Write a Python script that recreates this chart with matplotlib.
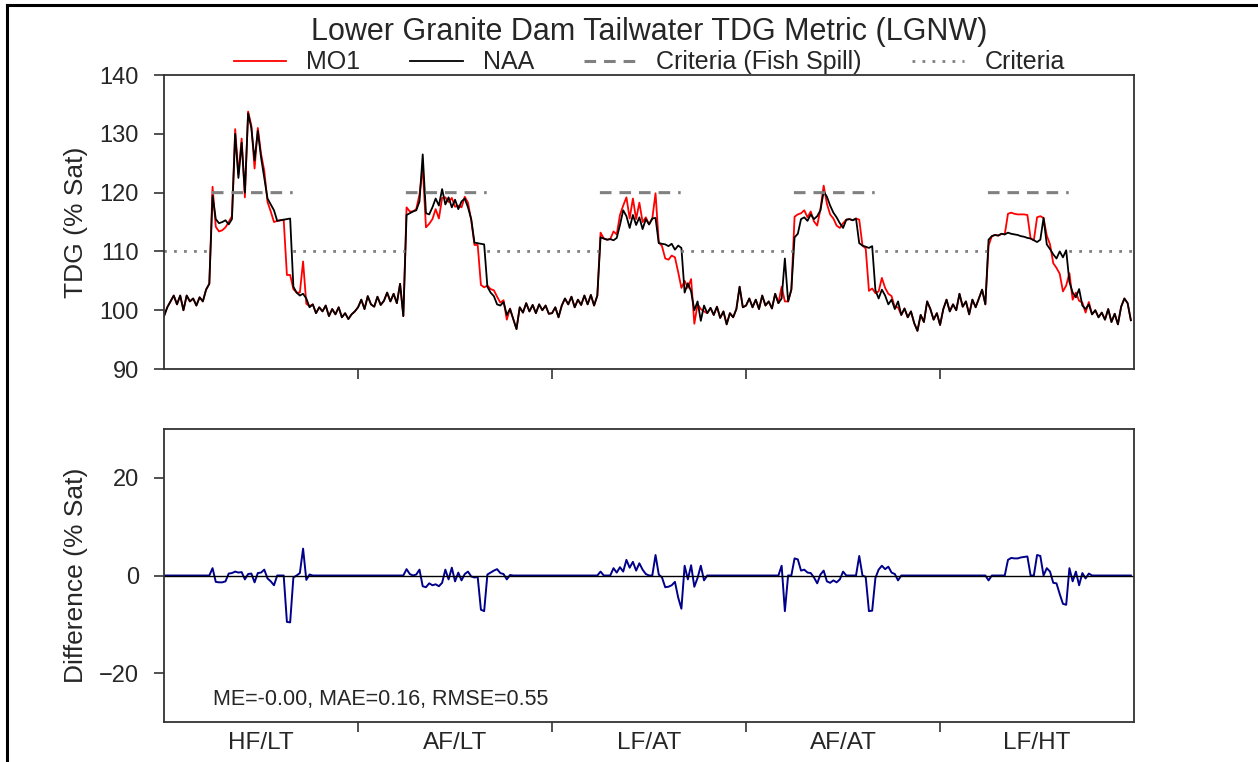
import numpy as np
import matplotlib
matplotlib.use("Agg")
from matplotlib import pyplot as plt
from matplotlib.lines import Line2D

plt.rcParams['font.family'] = ['Liberation Sans', 'DejaVu Sans']

# scenario labels, one year each
scenarios = ["HF/LT", "AF/LT", "LF/AT", "AF/AT", "LF/HT"]

# NAA tailwater TDG (% Sat), 60 samples per year
naa_hf_lt = [99.0, 100.5, 101.5, 102.5, 101.0, 102.5, 100.0, 102.5, 101.5, 102.0,
             100.8, 102.2, 101.5, 103.5, 104.5, 119.5, 115.5, 114.8, 115.0, 115.3,
             114.6, 115.5, 130.0, 122.5, 128.5, 120.0, 133.5, 131.0, 125.5, 130.5,
             126.0, 122.5, 119.0, 118.0, 117.0, 115.2, 115.3, 115.4, 115.5, 115.6,
             104.0, 103.0, 102.5, 102.8, 102.0, 100.5, 101.0, 99.5, 100.5, 99.8,
             100.8, 99.0, 100.2, 99.3, 100.5, 98.8, 99.5, 98.5, 99.3, 99.8]
naa_af_lt = [100.5, 101.8, 100.2, 102.4, 101.0, 100.6, 102.3, 100.9, 101.6, 103.0,
             101.5, 102.8, 101.2, 104.5, 99.0, 116.2, 116.5, 116.8, 117.0, 118.5,
             126.5, 116.5, 116.3, 117.5, 119.0, 117.8, 120.6, 118.0, 119.2, 117.5,
             118.8, 117.2, 118.5, 119.0, 117.5, 115.5, 111.5, 111.4, 111.3, 111.2,
             104.0, 103.0, 102.4, 101.0, 100.8, 101.4, 99.2, 100.2, 98.5, 96.8,
             100.5, 99.6, 101.2, 99.8, 100.9, 99.5, 101.0, 100.0, 100.8, 99.4]
naa_lf_at = [99.5, 100.5, 98.8, 100.8, 102.0, 101.0, 102.3, 100.5, 101.8, 100.9,
             102.5, 101.0, 102.6, 100.8, 102.5, 112.4, 112.2, 112.0, 112.1, 111.9,
             112.3, 114.5, 117.0, 116.0, 114.0, 116.2, 114.5, 115.8, 113.8, 115.5,
             114.6, 115.6, 115.7, 111.4, 111.3, 111.2, 110.9, 111.3, 110.3, 111.0,
             110.6, 103.0, 104.6, 103.2, 100.0, 101.5, 98.2, 100.8, 99.5, 100.4,
             99.2, 100.6, 98.7, 99.8, 97.6, 99.5, 98.8, 100.2, 104.0, 100.5]
naa_af_at = [100.8, 102.0, 100.5, 101.8, 100.2, 102.5, 100.8, 101.5, 100.3, 102.8,
             101.2, 102.0, 108.8, 101.5, 103.5, 112.4, 113.0, 115.5, 115.8, 115.2,
             116.3, 115.5, 116.0, 117.0, 120.2, 119.3, 117.8, 116.6, 115.8, 114.8,
             114.0, 115.4, 115.5, 115.3, 115.6, 111.4, 111.0, 110.8, 110.6, 110.9,
             103.4, 102.0, 103.5, 102.5, 101.0, 101.8, 100.2, 101.5, 99.2, 100.3,
             98.8, 99.8, 97.8, 96.5, 99.2, 98.0, 101.5, 100.2, 98.4, 99.5]
naa_lf_ht = [97.5, 100.2, 101.8, 99.8, 101.0, 100.0, 102.8, 100.6, 101.5, 99.3,
             101.8, 100.5, 102.0, 103.5, 101.0, 112.0, 112.6, 112.8, 112.7, 113.0,
             112.9, 113.2, 113.0, 112.9, 112.8, 112.6, 112.5, 112.3, 112.2, 111.9,
             111.6, 112.0, 115.7, 111.2, 110.4, 109.5, 108.8, 110.0, 109.0, 110.2,
             104.8, 103.0, 102.2, 103.6, 100.8, 100.2, 101.0, 99.3, 100.0, 98.8,
             99.6, 98.4, 100.2, 98.0, 99.4, 97.6, 100.6, 102.0, 101.2, 98.3]

# MO1 minus NAA (% Sat)
diff_hf_lt = [0, 0, 0, 0, 0, 0, 0, 0, 0, 0,
              0, 0, 0, 0, 0, 1.5, -1.3, -1.4, -1.4, -1.2,
              0.4, 0.5, 0.8, 0.6, 0.7, -0.8, 0.3, 0.4, -1.4, 0.5,
              0.6, 1.2, -0.6, -1.2, -2.0, 0, 0, 0, -9.5, -9.6,
              -0.4, 0, 0.5, 5.5, -0.9, 0.2, 0, 0, 0, 0,
              0, 0, 0, 0, 0, 0, 0, 0, 0, 0]
diff_af_lt = [0, 0, 0, 0, 0, 0, 0, 0, 0, 0,
              0, 0, 0, 0, 0, 1.3, 0.3, 0, 0.2, 1.2,
              -2.2, -2.4, -1.6, -2.0, -1.8, -2.2, -1.5, 1.2, -0.8, 1.6,
              -1.2, 0.6, -1.0, 0.3, 0.8, -0.2, -0.4, -0.3, -7.0, -7.3,
              0.2, 0.6, 1.0, 1.3, 0.5, 0.3, -0.8, 0.1, 0, 0,
              0, 0, 0, 0, 0, 0, 0, 0, 0, 0]
diff_lf_at = [0, 0, 0, 0, 0, 0, 0, 0, 0, 0,
              0, 0, 0, 0, 0, 0.8, 0, 0, 0, 1.5,
              0.6, 1.7, 0.8, 3.2, 1.6, 2.8, 1.0, 2.5, 1.2, 0.3,
              0, 0, 4.2, 0.2, -0.4, -2.4, -2.3, -2.0, -1.3, -4.5,
              -6.8, 2.0, -0.8, 2.1, -2.3, -0.5, 2.0, -1.0, 0, 0,
              0, 0, 0, 0, 0, 0, 0, 0, 0, 0]
diff_af_at = [0, 0, 0, 0, 0, 0, 0, 0, 0, 0,
              0, 2.0, -7.3, 0, 0, 3.5, 3.3, 1.0, 1.2, 0.6,
              0.5, -0.4, -1.6, 0.2, 1.0, -1.2, -1.5, -1.0, -1.4, -0.8,
              0.8, 0, 0, 0, 0, 4.0, 0, -0.3, -7.3, -7.2,
              -0.5, 1.2, 2.0, 1.3, 1.8, 0.6, 0.3, -1.0, 0, 0,
              0, 0, 0, 0, 0, 0, 0, 0, 0, 0]
diff_lf_ht = [0, 0, 0, 0, 0, 0, 0, 0, 0, 0,
              0, 0, 0, 0, 0, -1.0, 0, 0, 0, 0,
              0, 3.2, 3.6, 3.5, 3.5, 3.7, 3.8, 3.9, 0, 0,
              4.2, 4.0, 0, 1.5, 0.8, -1.5, -1.6, -3.8, -5.8, -6.0,
              1.5, -1.2, 0.8, -2.0, 0.5, -0.6, 0.4, 0, 0, 0,
              0, 0, 0, 0, 0, 0, 0, 0, 0, 0]

criteria_normal = 110
criteria_fish_spill = 120
spill_start_day = 90
spill_end_day = 242
stats_text = "ME=-0.00, MAE=0.16, RMSE=0.55"

naa = np.array(naa_hf_lt + naa_af_lt + naa_lf_at + naa_af_at + naa_lf_ht)
diff = np.array(diff_hf_lt + diff_af_lt + diff_lf_at + diff_af_at + diff_lf_ht)
mo1 = naa + diff

year_len = 365
n_per_year = len(naa_hf_lt)
n_years = len(scenarios)
x = np.concatenate([k * year_len + np.arange(n_per_year) * year_len / n_per_year
                    for k in range(n_years)])

# criteria on a daily grid
days = np.arange(n_years * year_len + 1)
doy = days % year_len
in_spill = (doy >= spill_start_day) & (doy <= spill_end_day)
crit_spill = np.where(in_spill, criteria_fish_spill, np.nan)
crit_norm = np.where(in_spill, np.nan, criteria_normal)

fig = plt.figure(figsize=(12.58, 7.62), dpi=100)
ax1 = fig.add_axes([0.1304, 0.5157, 0.7711, 0.3858])
ax2 = fig.add_axes([0.1304, 0.0525, 0.7711, 0.3845])

grey_txt = '#262626'
spine_c = '#333333'

l_mo1, = ax1.plot(x, mo1, color='red', lw=1.3, label='MO1')
l_naa, = ax1.plot(x, naa, color='black', lw=1.3, label='NAA')
l_fs, = ax1.plot(days, crit_spill, color='grey', ls=(0, (3.8, 2.6)), lw=2.2,
                 label='Criteria (Fish Spill)')
l_cr, = ax1.plot(days, crit_norm, color='grey', ls=(0, (1, 2.6)), lw=2.0,
                 label='Criteria')

ax2.plot(x, diff, color='darkblue', lw=1.4)
ax2.axhline(0, color='black', lw=1.0)
ax2.text(0.0505, 0.078, stats_text, transform=ax2.transAxes, fontsize=15.5,
         va='center', ha='left', color=grey_txt)

bounds = [k * year_len for k in range(1, n_years)]
centers = [(k + 0.5) * year_len for k in range(n_years)]

for ax in (ax1, ax2):
    ax.set_xlim(0, n_years * year_len)
    ax.set_xticks(bounds)
    ax.set_xticklabels([])
    ax.tick_params(axis='both', which='major', direction='out', length=7,
                   width=1.2, colors=spine_c, labelcolor=grey_txt, labelsize=17)
    ax.tick_params(axis='y', pad=11)
    for s in ax.spines.values():
        s.set_color(spine_c)
        s.set_linewidth(1.3)
    ax.yaxis.set_label_coords(-0.078, 0.5)

ax1.set_ylim(90, 140)
ax1.set_yticks([90, 100, 110, 120, 130, 140])
ax1.set_ylabel('TDG (% Sat)', fontsize=19, color=grey_txt)

ax2.set_ylim(-30, 30)
ax2.set_yticks([-20, 0, 20])
ax2.set_yticklabels(['\u221220', '0', '20'])
ax2.set_ylabel('Difference (% Sat)', fontsize=19, color=grey_txt)
ax2.set_xticks(centers, minor=True)
ax2.set_xticklabels(scenarios, minor=True)
ax2.tick_params(axis='x', which='minor', length=0, labelsize=17.5,
                labelcolor=grey_txt, pad=7)

fig.text(0.516, 0.958, 'Lower Granite Dam Tailwater TDG Metric (LGNW)',
         ha='center', va='center', fontsize=22, color=grey_txt)
fig.legend(handles=[l_mo1, l_naa, l_fs, l_cr], loc='center',
           bbox_to_anchor=(0.516, 0.918), ncol=4, frameon=False, fontsize=18,
           handlelength=2.1, handletextpad=0.8, columnspacing=2.0,
           labelcolor=grey_txt)

# outer frame on the left and top
fig.add_artist(Line2D([0.0056, 0.0056], [0.0, 0.9934], color='black', lw=2.2,
                      transform=fig.transFigure))
fig.add_artist(Line2D([0.0056, 1.0], [0.9934, 0.9934], color='black', lw=2.2,
                      transform=fig.transFigure))

fig.savefig('out.png', dpi=100)
